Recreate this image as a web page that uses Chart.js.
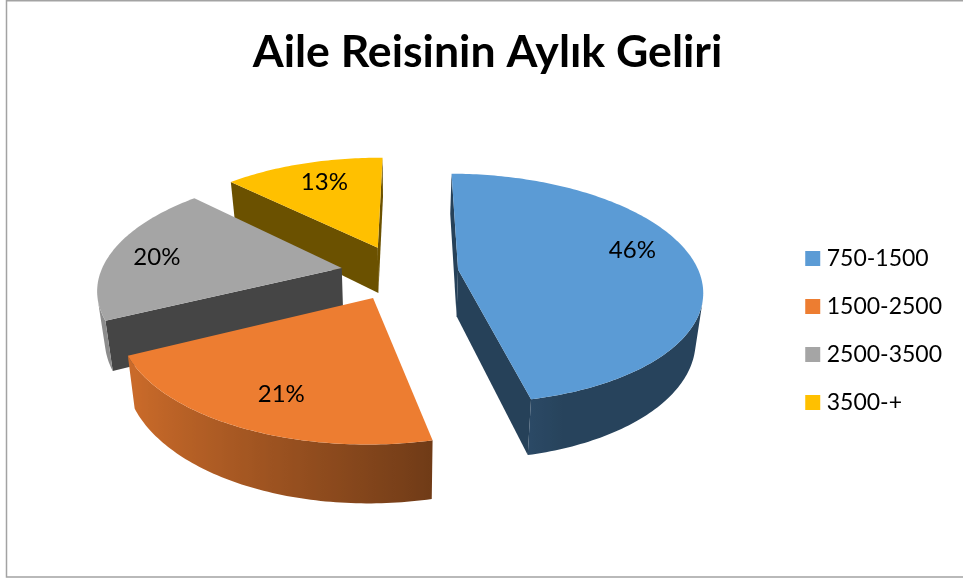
<!DOCTYPE html>
<html><head><meta charset="utf-8">
<style>html,body{margin:0;padding:0;background:#fff}#w{width:963px;height:578px}</style>
<script src="https://cdn.jsdelivr.net/npm/chart.js@4"></script>
</head><body><div id="w"><canvas id="c"></canvas></div>
<script>
const titleText = "Aile Reisinin Aylık Geliri";
const categories = ["750-1500","1500-2500","2500-3500","3500-+"];
const shares = [46.4,21.2,19.6,12.8];
const colors = ["#5B9BD5","#ED7D31","#A5A5A5","#FFC000"];
const explosion = [59,59,59,59];
const labelReach = [0.775,0.765,0.795,0.745];
const labelTurn = [-7.2,-1.8,-1.9,1.6];

const PLANE_R=241, PERSP=0.166, SQUASH=112.5, DEPTH=47, BOTTOM_SHRINK=0.975;
function rgbOf(hex,f){
  const n=parseInt(hex.slice(1),16);
  return `rgb(${Math.round((n>>16&255)*f)},${Math.round((n>>8&255)*f)},${Math.round((n&255)*f)})`;
}
const wallLight=t=>{const nx=Math.cos(t);return Math.max(0.43,Math.min(0.85,0.85-(nx+0.86)/1.14*0.4));};
const pie3d={
  id:'pie3d',
  afterLayout(chart){
    const l=chart.legend;l.left-=11;l.right-=11;l.top+=95;l.bottom+=95;
    const t=chart.titleBlock;t.left+=5;t.right+=5;
  },
  beforeDraw(chart){
    const c=chart.ctx;c.save();c.fillStyle='#fff';c.fillRect(0,0,chart.width,chart.height);
    c.strokeStyle='#a3a3a3';c.lineWidth=1.5;c.beginPath();
    c.moveTo(chart.width,0.7);c.lineTo(6.5,0.7);c.lineTo(6.5,577);c.lineTo(chart.width,577);c.stroke();c.restore();
  },
  beforeDatasetsDraw(chart){
    const c=chart.ctx, meta=chart.getDatasetMeta(0);
    const cx=meta.data[0].x+0.5, cy=meta.data[0].y;
    const proj=(u,v,z)=>{const w=1-PERSP*v,s=z?BOTTOM_SHRINK:1;return [cx+PLANE_R*u/w*s,cy+(SQUASH*v+DEPTH*z)/w];};
    const items=meta.data.map((el,i)=>{
      const mid=(el.startAngle+el.endAngle)/2,off=el.options.offset/PLANE_R;
      return {el,i,mid,u0:Math.cos(mid)*off,v0:Math.sin(mid)*off};
    }).sort((a,b)=>a.v0-b.v0);
    const faces=(a,b)=>[proj(a.u,a.v,0),proj(b.u,b.v,0),proj(b.u,b.v,1),proj(a.u,a.v,1)];
    const front=q=>{let A=0;for(let j=0;j<4;j++){const p=q[j],r=q[(j+1)%4];A+=p[0]*r[1]-r[0]*p[1];}return A<0;};
    const fillPoly=q=>{c.beginPath();q.forEach((p,j)=>j?c.lineTo(p[0],p[1]):c.moveTo(p[0],p[1]));c.closePath();c.fill();};
    c.save();c.lineJoin='round';
    for(const s of items){
      const color=s.el.options.backgroundColor;
      const arc=[];
      const n=Math.ceil((s.el.endAngle-s.el.startAngle)*180/Math.PI);
      for(let k=0;k<=n;k++){
        const t=s.el.startAngle+(s.el.endAngle-s.el.startAngle)*k/n;
        arc.push({u:s.u0+Math.cos(t),v:s.v0+Math.sin(t),t});
      }
      const apex={u:s.u0,v:s.v0};
      for(const [a,b] of [[apex,arc[0]],[arc[n],apex]]){
        const q=faces(a,b);
        if(front(q)){c.fillStyle=rgbOf(color,0.42);fillPoly(q);}
      }
      const vis=[];
      for(let k=0;k<n;k++) if(front(faces(arc[k],arc[k+1]))){ if(!vis.length)vis.push(arc[k]); vis.push(arc[k+1]); }
      if(vis.length>1){
        const top=vis.map(p=>proj(p.u,p.v,0)),bot=vis.map(p=>proj(p.u,p.v,1)).reverse();
        const x0=top[0][0],x1=top[top.length-1][0];
        const g=c.createLinearGradient(x0,0,x1,0);
        vis.forEach((p,k)=>{g.addColorStop(Math.max(0,Math.min(1,(top[k][0]-x0)/(x1-x0||1))),rgbOf(color,wallLight(p.t)));});
        c.fillStyle=g;fillPoly(top.concat(bot));
      }
      c.fillStyle=color;
      fillPoly([apex].concat(arc).map(p=>proj(p.u,p.v,0)));
    }
    c.fillStyle='#000';c.font='24px Lato';c.textAlign='center';c.textBaseline='middle';
    for(const s of items){
      const t=s.mid+labelTurn[s.i]*Math.PI/180,f=labelReach[s.i];
      const q=proj(s.u0+Math.cos(t)*f,s.v0+Math.sin(t)*f,0);
      c.fillText(Math.round(shares[s.i])+'%',q[0],q[1]);
    }
    c.restore();
    return false;
  }
};
new Chart(document.getElementById('c'),{
  type:'pie',
  data:{labels:categories,datasets:[{data:shares,backgroundColor:colors,offset:explosion,borderWidth:0}]},
  plugins:[pie3d],
  options:{
    responsive:true,maintainAspectRatio:false,animation:false,rotation:0.5,
    events:[],
    layout:{padding:{left:2,right:0,top:26,bottom:133}},
    plugins:{
      tooltip:{enabled:false},
      title:{display:true,text:titleText,color:'#000',font:{family:'Lato',size:44.6,weight:'bold'},padding:{top:0,bottom:20}},
      legend:{position:'right',labels:{usePointStyle:true,pointStyle:'rect',boxWidth:5,boxHeight:15,padding:25,color:'#000',font:{family:'Lato',size:23}}}
    }
  }
});
</script></body></html>
